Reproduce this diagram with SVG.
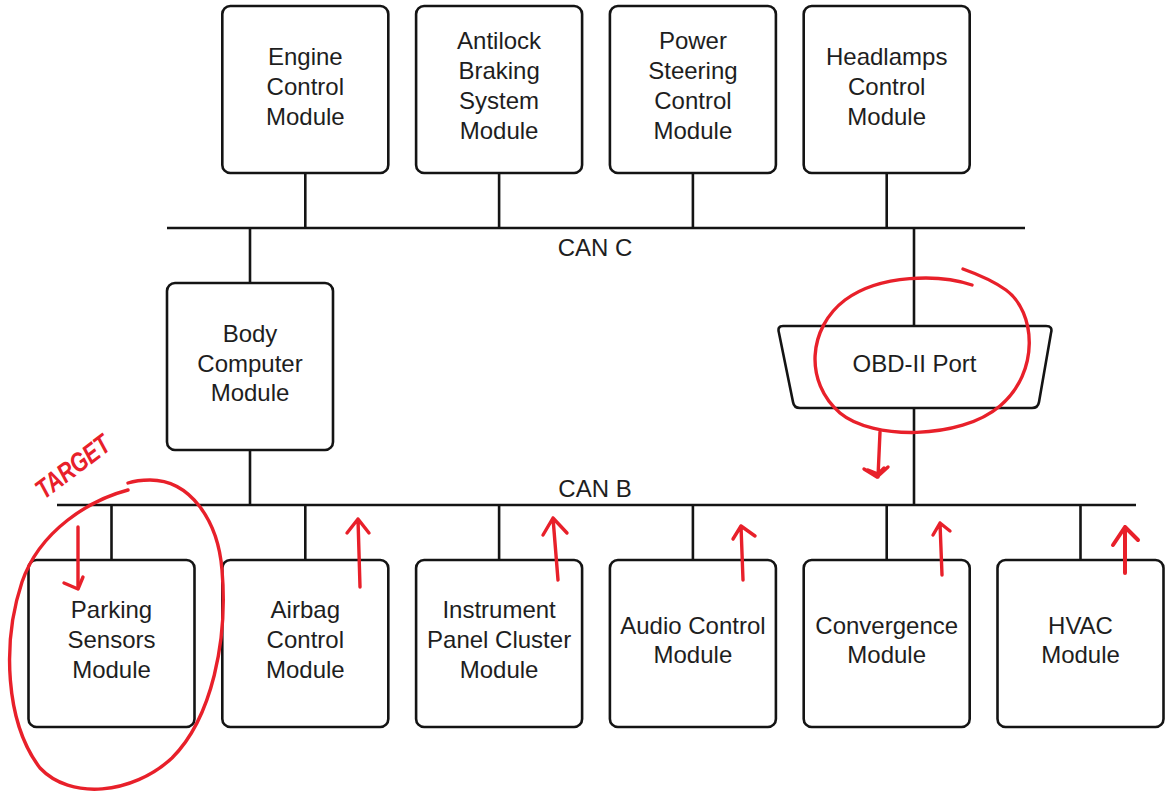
<svg xmlns="http://www.w3.org/2000/svg" width="1172" height="794" viewBox="0 0 1172 794">
  <style>
    .box { fill: #ffffff; stroke: #141414; stroke-width: 2.6; }
    .wire { stroke: #141414; stroke-width: 2.6; fill: none; }
    .lbl { font-family: "Liberation Sans", Arial, sans-serif; font-size: 24px; fill: #1e1e1e; text-anchor: middle; }
    .ink { stroke: #e8202a; stroke-width: 3.4; fill: none; stroke-linecap: round; stroke-linejoin: round; }
    .inktext { font-family: "Liberation Sans Narrow", "Liberation Sans", Arial, sans-serif; font-size: 27px; font-weight: bold; fill: #e8202a; font-style: italic; }
  </style>
  <rect width="1172" height="794" fill="#ffffff"/>

  <!-- bus lines and drops -->
  <g id="connectors">
    <!-- CAN C -->
    <line class="wire" x1="167" y1="228" x2="1025" y2="228"/>
    <line class="wire" x1="305.3" y1="173" x2="305.3" y2="228"/>
    <line class="wire" x1="499.1" y1="173" x2="499.1" y2="228"/>
    <line class="wire" x1="692.9" y1="173" x2="692.9" y2="228"/>
    <line class="wire" x1="886.7" y1="173" x2="886.7" y2="228"/>
    <line class="wire" x1="250" y1="228" x2="250" y2="283"/>
    <line class="wire" x1="914" y1="228" x2="914" y2="326"/>
    <!-- CAN B -->
    <line class="wire" x1="57" y1="505" x2="1136" y2="505"/>
    <line class="wire" x1="250" y1="450" x2="250" y2="505"/>
    <line class="wire" x1="914" y1="408" x2="914" y2="505"/>
    <line class="wire" x1="111.5" y1="505" x2="111.5" y2="560"/>
    <line class="wire" x1="305.3" y1="505" x2="305.3" y2="560"/>
    <line class="wire" x1="499.1" y1="505" x2="499.1" y2="560"/>
    <line class="wire" x1="692.9" y1="505" x2="692.9" y2="560"/>
    <line class="wire" x1="886.7" y1="505" x2="886.7" y2="560"/>
    <line class="wire" x1="1080.5" y1="505" x2="1080.5" y2="560"/>
    <text class="lbl" x="595" y="256">CAN C</text>
    <text class="lbl" x="595" y="497">CAN B</text>
  </g>

  <!-- CAN C modules -->
  <g id="engine-control">
    <rect class="box" x="222.3" y="6" width="166" height="167" rx="8"/>
    <text class="lbl" x="305.3" y="65">Engine</text>
    <text class="lbl" x="305.3" y="95">Control</text>
    <text class="lbl" x="305.3" y="125">Module</text>
  </g>
  <g id="antilock-braking">
    <rect class="box" x="416.1" y="6" width="166" height="167" rx="8"/>
    <text class="lbl" x="499.1" y="49">Antilock</text>
    <text class="lbl" x="499.1" y="79">Braking</text>
    <text class="lbl" x="499.1" y="109">System</text>
    <text class="lbl" x="499.1" y="139">Module</text>
  </g>
  <g id="power-steering">
    <rect class="box" x="609.9" y="6" width="166" height="167" rx="8"/>
    <text class="lbl" x="692.9" y="49">Power</text>
    <text class="lbl" x="692.9" y="79">Steering</text>
    <text class="lbl" x="692.9" y="109">Control</text>
    <text class="lbl" x="692.9" y="139">Module</text>
  </g>
  <g id="headlamps-control">
    <rect class="box" x="803.7" y="6" width="166" height="167" rx="8"/>
    <text class="lbl" x="886.7" y="65">Headlamps</text>
    <text class="lbl" x="886.7" y="95">Control</text>
    <text class="lbl" x="886.7" y="125">Module</text>
  </g>

  <!-- gateway -->
  <g id="body-computer">
    <rect class="box" x="167" y="283" width="166" height="167" rx="8"/>
    <text class="lbl" x="250" y="342">Body</text>
    <text class="lbl" x="250" y="372">Computer</text>
    <text class="lbl" x="250" y="401">Module</text>
  </g>
  <g id="obd-port">
    <path class="box" d="M783,326 L1046,326 Q1053,326 1051,333 L1039,402 Q1038,408 1032,408 L800,408 Q794,408 793,402 L779,333 Q777,326 783,326 Z"/>
    <text class="lbl" x="914.5" y="372">OBD-II Port</text>
  </g>

  <!-- CAN B modules -->
  <g id="parking-sensors">
    <rect class="box" x="28.5" y="560" width="166" height="167" rx="8"/>
    <text class="lbl" x="111.5" y="618">Parking</text>
    <text class="lbl" x="111.5" y="648">Sensors</text>
    <text class="lbl" x="111.5" y="678">Module</text>
  </g>
  <g id="airbag-control">
    <rect class="box" x="222.3" y="560" width="166" height="167" rx="8"/>
    <text class="lbl" x="305.3" y="618">Airbag</text>
    <text class="lbl" x="305.3" y="648">Control</text>
    <text class="lbl" x="305.3" y="678">Module</text>
  </g>
  <g id="instrument-cluster">
    <rect class="box" x="416.1" y="560" width="166" height="167" rx="8"/>
    <text class="lbl" x="499.1" y="618">Instrument</text>
    <text class="lbl" x="499.1" y="648">Panel Cluster</text>
    <text class="lbl" x="499.1" y="678">Module</text>
  </g>
  <g id="audio-control">
    <rect class="box" x="609.9" y="560" width="166" height="167" rx="8"/>
    <text class="lbl" x="692.9" y="634">Audio Control</text>
    <text class="lbl" x="692.9" y="663">Module</text>
  </g>
  <g id="convergence">
    <rect class="box" x="803.7" y="560" width="166" height="167" rx="8"/>
    <text class="lbl" x="886.7" y="634">Convergence</text>
    <text class="lbl" x="886.7" y="663">Module</text>
  </g>
  <g id="hvac">
    <rect class="box" x="997.5" y="560" width="166" height="167" rx="8"/>
    <text class="lbl" x="1080.5" y="634">HVAC</text>
    <text class="lbl" x="1080.5" y="663">Module</text>
  </g>

  <!-- hand-drawn red markup -->
  <g id="markup">
    <!-- loop round the OBD-II port and arrow onto CAN B -->
    <path class="ink" d="M972,285 C940,274 880,274 845,300 C808,328 804,382 840,413 C872,440 960,440 1000,406 C1040,372 1036,312 1006,290 C992,280 977,274 963,269"/>
    <path class="ink" d="M880,432 L878,477"/>
    <path class="ink" d="M864,469 L877,477 L888,467 M868,470 L878,474 L884,468"/>

    <!-- loop round the parking sensors module -->
    <path class="ink" d="M128,490 C90,500 40,530 22,582 C2,642 5,722 40,768 C70,800 132,795 172,758 C212,718 228,640 222,570 C218,520 190,480 150,480 C140,480 134,481 128,483"/>
    <text class="inktext" transform="rotate(-37 44 500)" x="44" y="500" textLength="86" lengthAdjust="spacingAndGlyphs">TARGET</text>
    <path class="ink" d="M78,527 L78,588"/>
    <path class="ink" d="M64,583 L78,589 L83,577"/>

    <!-- upward arrows onto CAN B -->
    <path class="ink" d="M360,587 L358,519 M347,533 L358,519 L369,533"/>
    <path class="ink" d="M558,580 L553,518 M543,535 L553,518 L567,533"/>
    <path class="ink" d="M743,580 L741,526 M733,539 L741,526 L755,536"/>
    <path class="ink" d="M942,575 L940,523 M933,535 L940,523 L950,531"/>
    <path class="ink" d="M1125,573 L1125,527 M1113,545 L1125,527 L1138,540" style="stroke-width:4"/>
  </g>
</svg>
